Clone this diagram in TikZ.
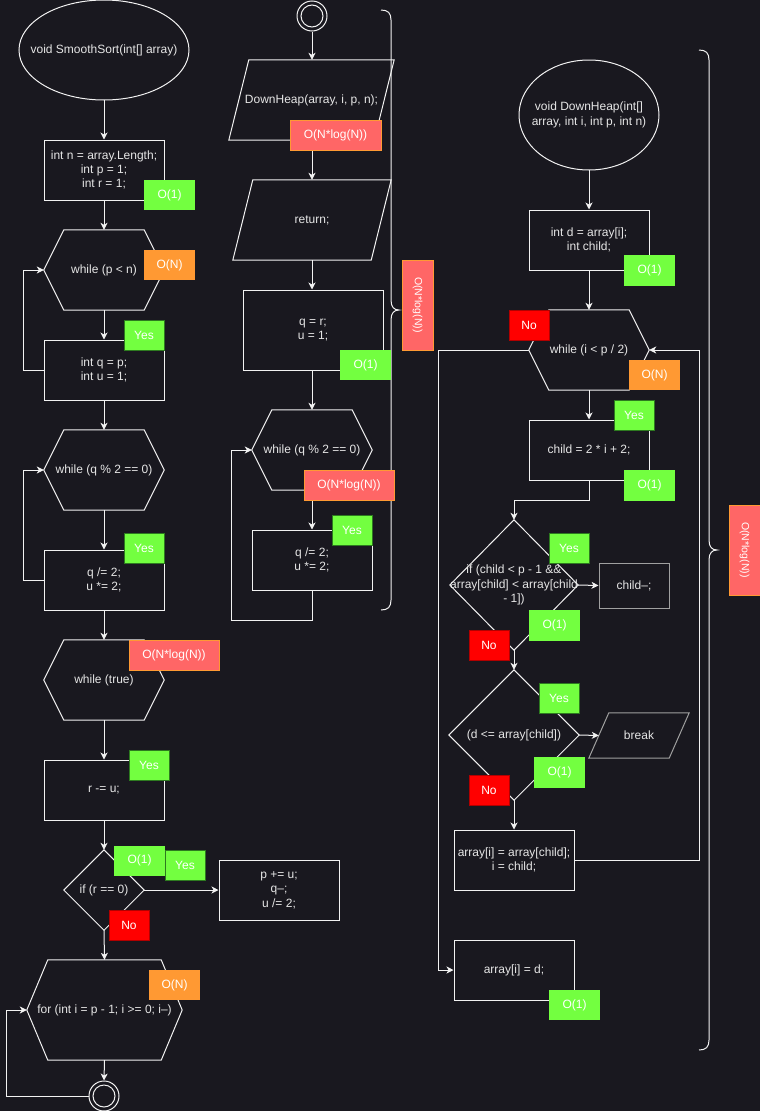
\documentclass[tikz,border=0pt]{standalone}
\usepackage{fontspec}
\setmainfont{Liberation Sans}
\usetikzlibrary{shapes.geometric,arrows.meta,calc}

\definecolor{bg}{HTML}{19181F}
\definecolor{fg}{HTML}{F2F2F2}
\definecolor{txt}{HTML}{E6E6E6}
\definecolor{dim}{HTML}{A0A0A0}
\definecolor{okgreen}{HTML}{73FF40}
\definecolor{okdark}{HTML}{2D7A1F}
\definecolor{warn}{HTML}{FF9933}
\definecolor{hot}{HTML}{FF6666}
\definecolor{nored}{HTML}{FF0000}
\definecolor{nodark}{HTML}{B20000}

% outline helpers for shapes drawn around an invisible rectangular node
\newcommand\drawhex[2]{\draw[line] ([xshift=#2]#1.north west) -- ([xshift=-#2]#1.north east) -- (#1.east)
  -- ([xshift=-#2]#1.south east) -- ([xshift=#2]#1.south west) -- (#1.west) -- cycle;}
\newcommand\drawpar[3][fg]{\draw[line,draw=#1] ([xshift=#3]#2.north west) -- (#2.north east)
  -- ([xshift=-#3]#2.south east) -- (#2.south west) -- cycle;}
\newcommand\drawdia[1]{\draw[line] (#1.north) -- (#1.east) -- (#1.south) -- (#1.west) -- cycle;}
\newcommand\drawoval[3]{\draw[line] (#1.center) ellipse[x radius=#2, y radius=#3];}

\tikzset{
  every node/.style={font=\fontsize{12}{14.4}\selectfont},
  line/.style={draw=fg, line width=1pt},
  arr/.style={line, -{Stealth[length=7pt,width=7pt,inset=2pt]}},
  proc/.style={draw=fg, line width=1pt, minimum width=120pt, minimum height=60pt,
    inner sep=0pt, align=center, text=txt},
  ghost/.style={inner sep=0pt, align=center, text=txt},
  dot/.style={circle, draw=fg, line width=1pt, minimum size=30pt, inner sep=0pt},
  tag/.style={inner sep=0pt, text=white, minimum height=30pt},
  cost/.style={tag, fill=okgreen, minimum width=51pt},
  yes/.style={tag, fill=okgreen, draw=okdark, line width=1pt, minimum width=40pt},
  no/.style={tag, fill=nored, draw=nodark, line width=1pt, minimum width=40pt},
  lin/.style={tag, fill=warn, minimum width=51pt},
  nlog/.style={tag, fill=hot, draw=warn, line width=1pt, minimum width=90pt},
}

\begin{document}
\begin{tikzpicture}[x=1pt,y=-1pt]
\useasboundingbox (0,0) rectangle (760,1111);
\fill[bg] (0,0) rectangle (760,1111);

% ---------------- SmoothSort ----------------
\node[ghost, minimum width=170pt, minimum height=100pt] (s1) at (104,50) {void SmoothSort(int[] array)};
\drawoval{s1}{85pt}{50pt}
\node[proc] (b1) at (104,170) {int n = array.Length;\\int p = 1;\\int r = 1;};
\node[ghost, minimum width=120pt, minimum height=80pt] (h1) at (104,270) {while (p < n)};
\drawhex{h1}{20pt}
\node[proc] (b2) at (104,370) {int q = p;\\int u = 1;};
\node[ghost, minimum width=120pt, minimum height=80pt] (h2) at (104,470) {while (q \% 2 == 0)};
\drawhex{h2}{20pt}
\node[proc] (b3) at (104,580) {q /= 2;\\u *= 2;};
\node[ghost, minimum width=120pt, minimum height=80pt] (h3) at (104,680) {while (true)};
\drawhex{h3}{20pt}
\node[proc] (b4) at (104,790) {r -= u;};
\node[ghost, minimum width=80pt, minimum height=80pt] (d1) at (104,890) {if (r == 0)};
\drawdia{d1}
\node[proc] (b5) at (279,890) {p += u;\\q--;\\u /= 2;};
\node[ghost, minimum width=155pt, minimum height=100pt] (h4) at (104.5,1010) {for (int i = p - 1; i >= 0; i--)};
\drawhex{h4}{21pt}
\node[dot] (c1) at (104,1096) {};
\draw[line] (c1.center) circle[radius=11pt];

\draw[arr] (s1) -- (b1);
\draw[arr] (b1) -- (h1);
\draw[arr] (h1) -- (b2);
\draw[arr] (b2.west) -- ++(-20,0) |- (h1.west);
\draw[arr] (b2) -- (h2);
\draw[arr] (h2) -- (b3);
\draw[arr] (b3.west) -- ++(-20,0) |- (h2.west);
\draw[arr] (b3) -- (h3);
\draw[arr] (h3) -- (b4);
\draw[arr] (b4) -- (d1);
\draw[arr] (d1.east) -- (b5.west);
\draw[arr] (d1.south) -- (h4.north);
\draw[arr] (h4.south) -- (c1.north);
\draw[arr] (c1.west) -| ([xshift=-20pt]h4.west) -- (h4.west);

% ---------------- loop body ----------------
\node[dot] (c2) at (312,16) {};
\draw[line] (c2.center) circle[radius=11pt];
\node[ghost, minimum width=165pt, minimum height=80pt] (p1) at (311.5,100) {DownHeap(array, i, p, n);};
\drawpar{p1}{20pt}
\node[ghost, minimum width=158pt, minimum height=80pt] (p2) at (312,220) {return;};
\drawpar{p2}{20pt}
\node[proc, minimum width=140pt, minimum height=80pt] (b6) at (313,330) {q = r;\\u = 1;};
\node[ghost, minimum width=120pt, minimum height=80pt] (h5) at (312,450) {while (q \% 2 == 0)};
\drawhex{h5}{20pt}
\node[proc] (b7) at (312,560) {q /= 2;\\u *= 2;};

\draw[arr] (c2.south) -- (c2.south |- p1.north);
\draw[arr] (p1.south -| c2) -- (p2.north -| c2);
\draw[arr] (p2.south -| c2) -- (b6.north -| c2);
\draw[arr] (b6.south -| c2) -- (h5.north);
\draw[arr] (h5) -- (b7);
\draw[arr] (b7.south) -- ++(0,30) -| ([xshift=-20pt]h5.west) -- (h5.west);

% brace over the loop body
\draw[line] (381,10) .. controls (388,10) and (391,13) .. (391,20) -- (391,300)
  .. controls (391,307) and (394,310) .. (399,310) .. controls (394,310) and (391,313) .. (391,320)
  -- (391,600) .. controls (391,607) and (388,610) .. (381,610);

% ---------------- DownHeap ----------------
\node[ghost, minimum width=140pt, minimum height=110pt] (s2) at (589,115) {void DownHeap(int[]\\array, int i, int p, int n)};
\drawoval{s2}{70pt}{55pt}
\node[proc] (b8) at (589,240) {int d = array[i];\\int child;};
\node[ghost, minimum width=120pt, minimum height=80pt] (h6) at (589,350) {while (i < p / 2)};
\drawhex{h6}{20pt}
\node[proc] (b9) at (589,450) {child = 2 * i + 2;};
\node[ghost, minimum width=128pt, minimum height=130pt] (d2) at (514,585) {if (child < p - 1 \&\&\\array[child] < array[child\\- 1])};
\drawdia{d2}
\node[proc, draw=dim, minimum width=70pt, minimum height=45pt] (b10) at (634,585.5) {child--;};
\node[ghost, minimum width=130pt, minimum height=130pt] (d3) at (514,735) {(d <= array[child])};
\drawdia{d3}
\node[ghost, minimum width=100pt, minimum height=45pt] (p3) at (639,735.5) {break};
\drawpar[dim]{p3}{20pt}
\node[proc] (b11) at (514,860) {array[i] = array[child];\\i = child;};
\node[proc] (b12) at (514,970) {array[i] = d;};

\draw[arr] (s2) -- (b8);
\draw[arr] (b8) -- (h6);
\draw[arr] (h6) -- (b9);
\draw[arr] (b9.south) -- ++(0,20) -| (d2.north);
\draw[arr] (d2.east) -- (b10.west);
\draw[arr] (d2.south) -- (d3.north);
\draw[arr] (d3.east) -- ([xshift=10pt]p3.west);
\draw[arr] (d3.south) -- (b11.north);
\draw[arr] (b11.east) -- ++(125,0) |- (h6.east);
\draw[arr] (h6.west) -- ++(-90,0) |- (b12.west);

% brace over DownHeap
\draw[line] (699,50) .. controls (706,50) and (709,53) .. (709,60) -- (709,540)
  .. controls (709,547) and (712,550) .. (717,550) .. controls (712,550) and (709,553) .. (709,560)
  -- (709,1040) .. controls (709,1047) and (706,1050) .. (699,1050);

% ---------------- cost and branch tags ----------------
\node[cost] (t1) at (169.5,195) {O(1)};
\node[lin]  (t2) at (169.5,265) {O(N)};
\node[yes]  (t3) at (144,335) {Yes};
\node[yes]  (t4) at (144,548) {Yes};
\node[nlog] (t5) at (174,655) {O(N*log(N))};
\node[yes]  (t6) at (149,765) {Yes};
\node[yes]  (t8) at (185,865) {Yes};
\node[cost] (t7) at (139.5,860.5) {O(1)};
\node[no]   (t9) at (129,925) {No};
\node[lin]  (t10) at (174.5,985) {O(N)};

\node[nlog, minimum width=91pt] (t11) at (335.5,135) {O(N*log(N))};
\node[cost] (t12) at (365.5,365) {O(1)};
\node[nlog] (t13) at (349,485) {O(N*log(N))};
\node[yes]  (t14) at (352,530) {Yes};
\node[nlog, rotate=-90, minimum width=90pt, minimum height=31pt, font=\fontsize{10.5}{12}\selectfont] (t15) at (417.5,305) {O(N*log(N))};

\node[cost, minimum height=31pt] (t16) at (649.5,270.5) {O(1)};
\node[no]   (t17) at (529,325) {No};
\node[lin]  (t18) at (654.5,375) {O(N)};
\node[yes]  (t19) at (634,415) {Yes};
\node[cost, minimum height=31pt] (t20) at (649.5,485.5) {O(1)};
\node[yes]  (t21) at (569,548) {Yes};
\node[cost, minimum height=31pt] (t22) at (554.5,625.5) {O(1)};
\node[no]   (t23) at (489,645) {No};
\node[yes]  (t24) at (559,698) {Yes};
\node[cost, minimum height=31pt] (t25) at (559.5,772.5) {O(1)};
\node[no]   (t26) at (489,790.5) {No};
\node[cost] (t27) at (574.5,1005) {O(1)};
\node[nlog, rotate=-90, minimum width=90pt, minimum height=31pt, font=\fontsize{10.5}{12}\selectfont] (t28) at (744.5,550) {O(N*log(N))};
\end{tikzpicture}
\end{document}
